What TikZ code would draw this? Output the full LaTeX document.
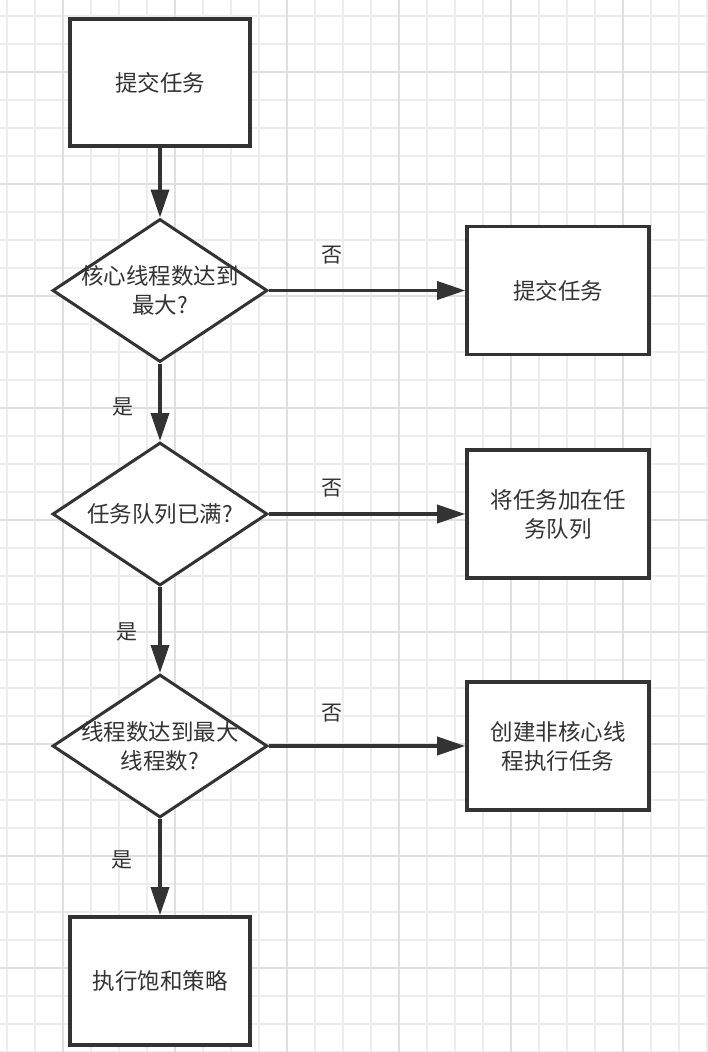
\documentclass[tikz,border=0pt]{standalone}
\usepackage{fontspec}
\setmainfont{Noto Sans CJK SC}
\usetikzlibrary{shapes.geometric,arrows.meta}
\definecolor{gridminor}{HTML}{EDEDED}
\definecolor{gridmajor}{HTML}{DFDFDF}
\definecolor{ink}{HTML}{333333}
\tikzset{
  minorgrid/.style={draw=gridminor,line width=1.3pt},
  majorgrid/.style={draw=gridmajor,line width=1.5pt},
  procbox/.style={draw=ink,fill=white,line width=3.6pt,rectangle,minimum width=180pt,minimum height=127pt,inner sep=0pt},
  decision/.style={draw=ink,fill=white,line width=3pt,diamond,minimum width=215pt,minimum height=143pt,inner sep=0pt},
  boxtext/.style={align=center,font=\fontsize{22.5pt}{29pt}\selectfont,text=ink,inner sep=0pt},
  edgelabel/.style={font=\fontsize{21pt}{25pt}\selectfont,text=ink,inner sep=0pt},
  flow/.style={draw=ink,line width=3.6pt,-{Triangle[length=28pt,width=18pt]}}
}
\begin{document}
\begin{tikzpicture}[x=1pt,y=-1pt]
\useasboundingbox (0,0) rectangle (708,1052);
\fill[white] (0,0) rectangle (708,1052);
% grid
\foreach \x in {7,35,...,707} \draw[minorgrid] (\x,0) -- (\x,1052);
\foreach \y in {16,44,...,1052} \draw[minorgrid] (0,\y) -- (708,\y);
\foreach \x in {63,175,...,623} \draw[majorgrid] (\x,0) -- (\x,1052);
\foreach \y in {72,184,...,968} \draw[majorgrid] (0,\y) -- (708,\y);

% shapes
\node[procbox] (b1) at (160,82.5) {};
\node[decision] (d1) at (160,290.5) {};
\node[procbox,minimum width=182pt,minimum height=128pt] (b2) at (558,290.5) {};
\node[decision] (d2) at (160,514) {};
\node[procbox,minimum width=182pt,minimum height=128pt] (b3) at (558,514) {};
\node[decision] (d3) at (160,746) {};
\node[procbox,minimum width=182pt,minimum height=128pt] (b4) at (558,746) {};
\node[procbox,minimum height=128pt] (b5) at (160,981) {};

% texts
\node[boxtext] (t1) at (b1) {提交任务};
\node[boxtext] (t2) at (d1) {核心线程数达到\\最大?};
\node[boxtext] (t3) at (b2) {提交任务};
\node[boxtext] (t4) at (d2) {任务队列已满?};
\node[boxtext] (t5) at (b3) {将任务加在任\\务队列};
\node[boxtext] (t6) at (d3) {线程数达到最大\\线程数?};
\node[boxtext] (t7) at (b4) {创建非核心线\\程执行任务};
\node[boxtext] (t8) at (b5) {执行饱和策略};

% connectors
\draw[flow] (b1.south) -- (d1.north);
\draw[flow] (d1.east) -- (b2.west);
\draw[flow] (d1.south) -- (d2.north);
\draw[flow] (d2.east) -- (b3.west);
\draw[flow] (d2.south) -- (d3.north);
\draw[flow] (d3.east) -- (b4.west);
\draw[flow] (d3.south) -- (b5.north);

% labels
\node[edgelabel] (n1) at (332,255) {否};
\node[edgelabel] (n2) at (332,488) {否};
\node[edgelabel] (n3) at (332,713) {否};
\node[edgelabel] (y1) at (123,407) {是};
\node[edgelabel] (y2) at (127,632) {是};
\node[edgelabel] (y3) at (122,860) {是};
\end{tikzpicture}
\end{document}
